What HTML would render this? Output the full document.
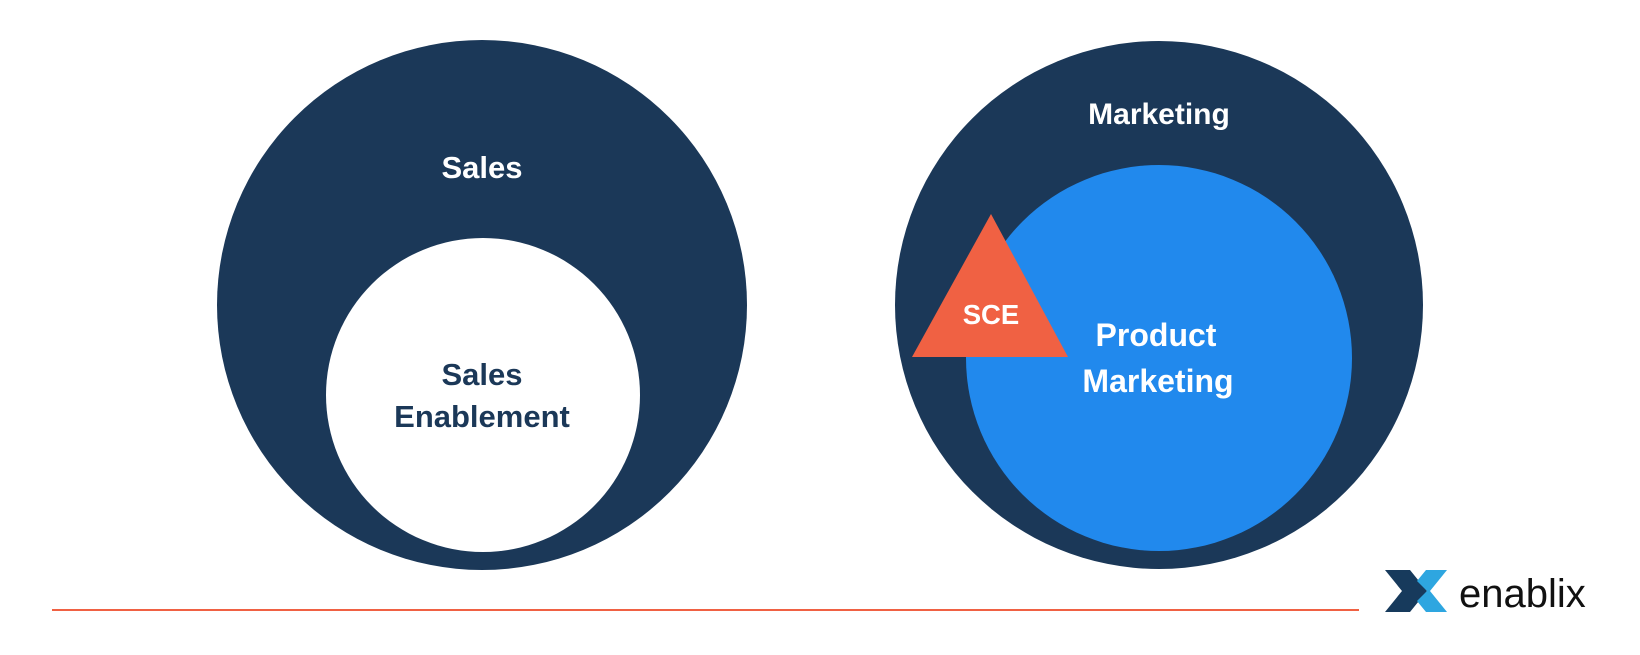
<!DOCTYPE html>
<html><head><style>
html,body{margin:0;padding:0;background:#fff;}
body{width:1640px;height:650px;overflow:hidden;}
</style></head><body>
<svg width="1640" height="650" viewBox="0 0 1640 650" xmlns="http://www.w3.org/2000/svg">
<rect width="1640" height="650" fill="#fff"/>
<circle cx="482" cy="305" r="265" fill="#1b3858"/>
<circle cx="483" cy="395" r="157" fill="#fff"/>
<circle cx="1159" cy="305" r="264" fill="#1b3858"/>
<circle cx="1159" cy="358" r="193" fill="#2189ed"/>
<polygon points="991,214 912,357 1068,357" fill="#f06143"/>
<g font-family="Liberation Sans, sans-serif" font-weight="bold" font-size="31" text-anchor="middle">
<text x="482" y="178" fill="#fff">Sales</text>
<text x="1159" y="124" font-size="30" fill="#fff">Marketing</text>
<text x="482" y="385" fill="#1b3858">Sales</text>
<text x="482" y="427" fill="#1b3858">Enablement</text>
<text x="1156" y="346" font-size="32" fill="#fff">Product</text>
<text x="1158" y="392" font-size="32" fill="#fff">Marketing</text>
<text x="991" y="324" fill="#fff" font-size="27.5">SCE</text>
</g>
<line x1="52" y1="610" x2="1359" y2="610" stroke="#f06143" stroke-width="2"/>
<polygon points="1385,570 1410,570 1427,591 1410,612 1385,612 1402,591" fill="#173a5c"/>
<polygon points="1426,570 1447,570 1430,591 1447,612 1426,612 1417,601 1427,591 1417,581" fill="#2ea6e0"/>
<text x="1459" y="607" font-family="Liberation Sans, sans-serif" font-size="40" fill="#111">enablix</text>
</svg>
</body></html>
